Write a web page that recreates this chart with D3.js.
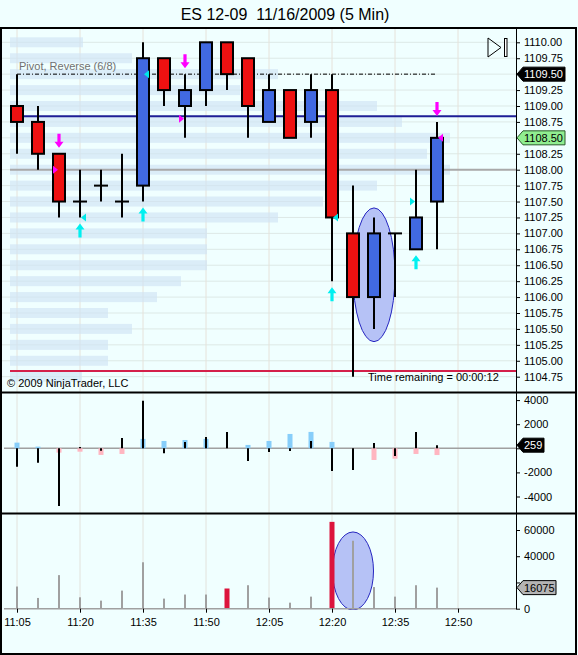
<!DOCTYPE html>
<html><head><meta charset="utf-8">
<script src="https://cdn.jsdelivr.net/npm/d3@7"></script>
<style>
html,body{margin:0;padding:0;background:#f0ffff;overflow:hidden}
text{font-family:"Liberation Sans",Arial,sans-serif}
</style></head>
<body><svg id="c" width="578" height="655"></svg>
<script>
// ---------- DATA ----------
const times  = ["11:05","11:10","11:15","11:20","11:25","11:30","11:35","11:40","11:45","11:50","11:55",
                "12:00","12:05","12:10","12:15","12:20","12:25","12:30","12:35","12:40","12:45"];
const opens  = [1109.00,1108.75,1108.25,1107.50,1107.75,1107.50,1107.75,1109.75,1109.00,1109.25,1110.00,
                1109.75,1108.75,1109.25,1108.75,1109.25,1107.00,1106.00,1107.00,1106.75,1107.50];
const highs  = [1109.50,1109.00,1108.25,1108.00,1108.00,1108.25,1110.00,1109.75,1109.50,1110.00,1110.00,
                1109.75,1109.50,1109.25,1109.50,1109.50,1107.75,1107.25,1107.00,1108.00,1108.75];
const lows   = [1108.25,1108.00,1107.25,1107.25,1107.50,1107.25,1107.50,1109.00,1108.50,1109.00,1109.25,
                1108.50,1108.75,1108.50,1108.50,1106.25,1104.75,1105.50,1106.00,1106.75,1106.75];
const closes = [1108.75,1108.25,1107.50,1107.50,1107.75,1107.50,1109.75,1109.25,1109.25,1110.00,1109.50,
                1109.00,1109.25,1108.50,1109.25,1107.25,1106.00,1107.00,1107.00,1107.25,1108.50];

// volume profile (left background rows)
const profilePrices = [1110.00,1109.75,1109.50,1109.25,1109.00,1108.75,1108.50,1108.25,1108.00,1107.75,1107.50,
                       1107.25,1107.00,1106.75,1106.50,1106.25,1106.00,1105.75,1105.50,1105.25,1105.00,1104.75];
const profileVolume = [73,122,268,230,367,392,440,417,440,367,313,268,197,197,197,171,147,98,122,98,98,72];

// horizontal levels
const pivotLevel   = 1108.84;
const grayLevel    = 1108.00;
const redLevel     = 1104.84;
const reverseLevel = 1109.50;
const lastPrice    = 1108.50;
const markerPrice  = 1109.50;

// signals
const downArrows = ["11:15","11:45","12:45"];
const upArrows   = ["11:20","11:35","12:20","12:40"];
const triTimes   = ["11:15","11:20","11:35","11:45","12:20","12:40","12:45"];
const triPrices  = [1108.00,1107.25,1109.50,1108.80,1107.25,1107.50,1108.50];
const triDirs    = ["R","L","L","R","L","R","L"];
const triColors  = ["magenta","cyan","cyan","magenta","cyan","cyan","magenta"];

// delta panel
const deltaNet  = [470,140,-360,-280,-550,-470,780,610,690,780,0,280,610,1190,1360,530,0,-970,-860,-470,-560];
const deltaLine = [-1530,-1190,-4780,100,-200,860,3940,-420,530,940,1360,-1060,-310,-220,610,-1890,-1800,440,-640,1360,259];

// volume panel
const volumes = [16900,8200,25600,8700,6150,13800,35400,7700,10800,10800,15400,17900,8500,4600,9200,66200,51800,16500,9200,17900,16075];
const volumeAlert = ["11:55","12:20"];

// ticks
const priceTicks = [1110.00,1109.75,1109.50,1109.25,1109.00,1108.75,1108.50,1108.25,1108.00,1107.75,1107.50,
                    1107.25,1107.00,1106.75,1106.50,1106.25,1106.00,1105.75,1105.50,1105.25,1105.00,1104.75];
const deltaTicks = [-4000,-2000,0,2000,4000];
const deltaTickLabels = ["-4000","-2000","","2000","4000"];
const volTicks   = [0,20000,40000,60000];
const volTickLabels = ["0","","40000","60000"];
const timeTicks  = ["11:05","11:20","11:35","11:50","12:05","12:20","12:35","12:50"];

// ---------- SCALES ----------
const parse = d3.timeParse("%H:%M");
const x  = d3.scaleTime().domain([parse("11:05"), parse("12:50")]).range([17, 458]);
const y  = d3.scaleLinear().domain([1104.75, 1110]).range([376.7, 42.3]);
const yD = d3.scaleLinear().domain([-4000, 4000]).range([496.5, 400.1]);
const yV = d3.scaleLinear().domain([0, 60000]).range([608.7, 530]);
const pw = d3.scaleLinear().domain([0, 440]).range([0, 440]);

const svg = d3.select("#c");
const AX = 516;
const FONT = 11;

svg.append("rect").attr("width",578).attr("height",655).attr("fill","#f0ffff");

// title
svg.append("text").attr("x",285).attr("y",20).attr("text-anchor","middle")
  .attr("font-size",16).attr("fill","#000").style("white-space","pre")
  .text("ES 12-09  11/16/2009 (5 Min)");

// clips
const defs = svg.append("defs");
defs.append("clipPath").attr("id","cm").append("rect").attr("x",2).attr("y",29).attr("width",AX-2).attr("height",363);
defs.append("clipPath").attr("id","cd").append("rect").attr("x",2).attr("y",394).attr("width",AX-2).attr("height",119);
defs.append("clipPath").attr("id","cv").append("rect").attr("x",2).attr("y",515).attr("width",AX-2).attr("height",95);

// ---------- MAIN PANEL ----------
const gm = svg.append("g").attr("clip-path","url(#cm)");
gm.selectAll(".hg").data(priceTicks).join("line")
  .attr("x1",2).attr("x2",AX).attr("y1",d=>y(d)).attr("y2",d=>y(d))
  .attr("stroke","#dde9e6").attr("stroke-width",1);
gm.selectAll(".vg").data(timeTicks).join("line")
  .attr("x1",d=>x(parse(d))).attr("x2",d=>x(parse(d))).attr("y1",29).attr("y2",392)
  .attr("stroke","#e6e2da").attr("stroke-width",1);
gm.selectAll(".pr").data(profilePrices).join("rect")
  .attr("x",10).attr("y",d=>y(d)-5).attr("height",10)
  .attr("width",(d,i)=>pw(profileVolume[i]))
  .attr("fill","#cfe3f5").attr("opacity",0.65);

[[grayLevel,"#a9a9a9"],[pivotLevel,"#1e1e96"],[redLevel,"#d4204a"]].forEach(([v,c])=>{
  gm.append("line").attr("x1",10).attr("x2",AX).attr("y1",y(v)).attr("y2",y(v))
    .attr("stroke",c).attr("stroke-width",2);
});
gm.append("line").attr("x1",x(parse(times[0]))).attr("x2",x(parse(times[times.length-1])))
  .attr("y1",y(reverseLevel)).attr("y2",y(reverseLevel))
  .attr("stroke","#000").attr("stroke-width",1).attr("stroke-dasharray","4,2,1,2");
gm.append("text").attr("x",19).attr("y",y(reverseLevel)-4).attr("font-size",FONT)
  .attr("fill","#707070").text("Pivot, Reverse (6/8)");

gm.append("ellipse").attr("cx",x(parse("12:30"))).attr("cy",(y(1107.4)+y(1105.3))/2)
  .attr("rx",21).attr("ry",(y(1105.3)-y(1107.4))/2)
  .attr("fill","#b6c2f6").attr("stroke","#2626c0").attr("stroke-width",1);

times.forEach((t,i)=>{
  const cx = x(parse(t));
  const o=opens[i], c=closes[i], h=highs[i], l=lows[i];
  gm.append("line").attr("x1",cx).attr("x2",cx).attr("y1",y(h)).attr("y2",y(l))
    .attr("stroke","#000").attr("stroke-width",2);
  if (o === c) {
    gm.append("line").attr("x1",cx-7).attr("x2",cx+7).attr("y1",y(o)).attr("y2",y(o))
      .attr("stroke","#000").attr("stroke-width",2);
  } else {
    const top=Math.max(o,c), bot=Math.min(o,c);
    gm.append("rect").attr("x",cx-6).attr("y",y(top)).attr("width",12).attr("height",y(bot)-y(top))
      .attr("fill", c>o ? "#4169e1" : "#ee1111").attr("stroke","#000").attr("stroke-width",2);
  }
});

downArrows.forEach(t=>{
  const i = times.indexOf(t), cx = x(parse(t)), ty = y(highs[i])-6;
  gm.append("path").attr("transform",`translate(${cx},${ty})`)
    .attr("d","M0,0L-4.5,-6L-1.6,-6L-1.6,-14L1.6,-14L1.6,-6L4.5,-6Z").attr("fill","#ff00ff");
});
upArrows.forEach(t=>{
  const i = times.indexOf(t), cx = x(parse(t)), ty = y(lows[i])+6;
  gm.append("path").attr("transform",`translate(${cx},${ty})`)
    .attr("d","M0,0L-4.5,6L-1.6,6L-1.6,14L1.6,14L1.6,6L4.5,6Z").attr("fill","#00f0f0");
});
triTimes.forEach((t,i)=>{
  const cx = x(parse(t)), ty = y(triPrices[i]);
  const d = triDirs[i]==="L"
    ? `M${cx+1},${ty}L${cx+6},${ty-4}L${cx+6},${ty+4}Z`
    : `M${cx-1},${ty}L${cx-6},${ty-4}L${cx-6},${ty+4}Z`;
  gm.append("path").attr("d",d).attr("fill",triColors[i]==="magenta"?"#ff00ff":"#00e8e8");
});

svg.append("path").attr("d","M488,38L488,57L501,47.5Z").attr("fill","none").attr("stroke","#000").attr("stroke-width",1);
svg.append("rect").attr("x",504.5).attr("y",38.5).attr("width",2.5).attr("height",18).attr("fill","#fff").attr("stroke","#000").attr("stroke-width",1);

svg.append("text").attr("x",7).attr("y",387).attr("font-size",FONT).text("\u00a9 2009 NinjaTrader, LLC");
svg.append("text").attr("x",368).attr("y",381).attr("font-size",FONT).text("Time remaining = 00:00:12");

function styleAxis(g){
  g.select(".domain").remove();
  g.selectAll("text").attr("font-size",FONT).attr("font-family","Liberation Sans, Arial, sans-serif").attr("fill","#000");
  g.selectAll("line").attr("stroke","#000");
}
const ay = svg.append("g").attr("transform",`translate(${AX},0)`)
  .call(d3.axisRight(y).tickValues(priceTicks).tickFormat(d3.format(".2f")).tickSize(4).tickPadding(4));
styleAxis(ay);

function priceTag(yy, label, fill, stroke, color, w){
  const g = svg.append("g");
  g.append("path").attr("d",`M517,${yy}L523,${yy-7}L${517+w},${yy-7}L${517+w},${yy+7}L523,${yy+7}Z`)
    .attr("fill",fill).attr("stroke",stroke).attr("stroke-width",1);
  g.append("text").attr("x",524).attr("y",yy+4).attr("font-size",FONT).attr("fill",color).text(label);
}
priceTag(y(markerPrice), d3.format(".2f")(markerPrice), "#000", "#000", "#fff", 48);
priceTag(y(lastPrice), d3.format(".2f")(lastPrice), "#90ee90", "#2a5a2a", "#000", 48);

// ---------- DELTA PANEL ----------
const gd = svg.append("g").attr("clip-path","url(#cd)");
gd.selectAll(".vg").data(timeTicks).join("line")
  .attr("x1",d=>x(parse(d))).attr("x2",d=>x(parse(d))).attr("y1",393).attr("y2",513)
  .attr("stroke","#e2e2dc").attr("stroke-width",1);
gd.append("line").attr("x1",4).attr("x2",AX).attr("y1",yD(0)).attr("y2",yD(0)).attr("stroke","#a0a0a0").attr("stroke-width",1.5);
gd.selectAll(".dn").data(times).join("rect")
  .attr("x",d=>x(parse(d))-2.5).attr("width",5)
  .attr("y",(d,i)=>Math.min(yD(0),yD(deltaNet[i])))
  .attr("height",(d,i)=>Math.abs(yD(deltaNet[i])-yD(0)))
  .attr("fill",(d,i)=>deltaNet[i]>=0?"#87cefa":"#ffb6c1");
gd.selectAll(".dl").data(times).join("line")
  .attr("x1",d=>x(parse(d))).attr("x2",d=>x(parse(d)))
  .attr("y1",yD(0)).attr("y2",(d,i)=>yD(deltaLine[i]))
  .attr("stroke","#000").attr("stroke-width",2);
const ad = svg.append("g").attr("transform",`translate(${AX},0)`)
  .call(d3.axisRight(yD).tickValues(deltaTicks).tickFormat((d,i)=>deltaTickLabels[i]).tickSize(4).tickPadding(4));
styleAxis(ad);
priceTag(yD(deltaLine[deltaLine.length-1]), String(deltaLine[deltaLine.length-1]), "#000", "#000", "#fff", 27);

// ---------- VOLUME PANEL ----------
const gv = svg.append("g").attr("clip-path","url(#cv)");
gv.selectAll(".vg").data(timeTicks).join("line")
  .attr("x1",d=>x(parse(d))).attr("x2",d=>x(parse(d))).attr("y1",514).attr("y2",609)
  .attr("stroke","#e2e2dc").attr("stroke-width",1);
gv.append("ellipse").attr("cx",x(parse("12:25"))).attr("cy",(yV(58500)+yV(-1000))/2)
  .attr("rx",20.5).attr("ry",(yV(-1000)-yV(58500))/2)
  .attr("fill","#b6c2f6").attr("stroke","#2626c0").attr("stroke-width",1);
gv.selectAll(".vb").data(times).join("rect")
  .attr("x",d=>x(parse(d))-(volumeAlert.includes(d)?2.5:1))
  .attr("width",d=>volumeAlert.includes(d)?5:2)
  .attr("y",(d,i)=>yV(volumes[i])).attr("height",(d,i)=>yV(0)-yV(volumes[i]))
  .attr("fill",d=>volumeAlert.includes(d)?"#dc143c":"#a0a0a0");
svg.append("line").attr("x1",4).attr("x2",AX).attr("y1",yV(0)).attr("y2",yV(0)).attr("stroke","#a0a0a0").attr("stroke-width",1.5);
const av = svg.append("g").attr("transform",`translate(${AX},0)`)
  .call(d3.axisRight(yV).tickValues(volTicks).tickFormat((d,i)=>volTickLabels[i]).tickSize(4).tickPadding(4));
styleAxis(av);
priceTag(yV(volumes[volumes.length-1]), String(volumes[volumes.length-1]), "#b4b4b4", "#000", "#000", 39);

const at = svg.append("g").attr("transform",`translate(0,${yV(0)})`)
  .call(d3.axisBottom(x).tickValues(timeTicks.map(parse)).tickFormat(d3.timeFormat("%H:%M")).tickSize(4).tickPadding(6));
styleAxis(at);

// ---------- FRAME ----------
svg.append("line").attr("x1",AX+0.5).attr("x2",AX+0.5).attr("y1",28).attr("y2",609).attr("stroke","#000");
svg.append("rect").attr("x",1).attr("y",28).attr("width",575).attr("height",626)
  .attr("fill","none").attr("stroke","#000").attr("stroke-width",2);
svg.append("line").attr("x1",1).attr("x2",577).attr("y1",392.5).attr("y2",392.5).attr("stroke","#000").attr("stroke-width",2);
svg.append("line").attr("x1",1).attr("x2",577).attr("y1",513.5).attr("y2",513.5).attr("stroke","#000").attr("stroke-width",2);
</script>
</body></html>
